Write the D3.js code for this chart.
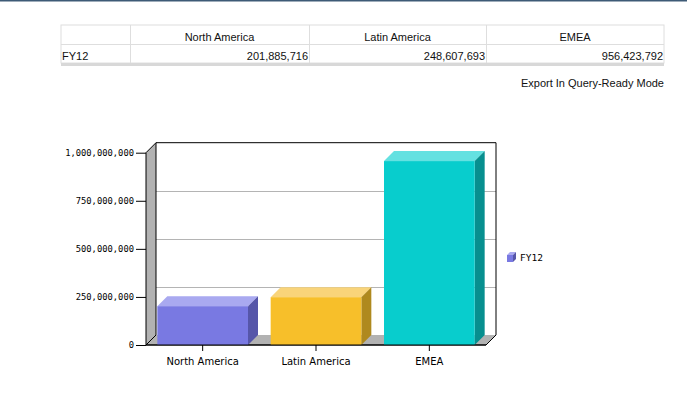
<!DOCTYPE html>
<html>
<head>
<meta charset="utf-8">
<script src="https://cdn.jsdelivr.net/npm/d3@7"></script>
<style>
  body { margin: 0; background: #fff; }
  svg { display: block; }
</style>
</head>
<body>
<svg id="chart"></svg>
<script>
// data
const regions = ["North America", "Latin America", "EMEA"]
const fy12 = [201885716, 248607693, 956423792]
const yTicks = [0, 250000000, 500000000, 750000000, 1000000000]
const seriesName = "FY12"

const width = 687
const height = 397
const depth = 10

const faceColors = {
    "North America": { front: "#7979e2", top: "#a9a9f0", side: "#5656a9" },
    "Latin America": { front: "#f7bf2a", top: "#f9d47a", side: "#af891e" },
    "EMEA": { front: "#08cdcd", top: "#64e1e1", side: "#078f8f" }
}

const svg = d3.select("#chart").attr("width", width).attr("height", height)

// top rule
svg.append("rect").attr("x", 0).attr("y", 0).attr("width", width).attr("height", 1.5).attr("fill", "#3e5a76")

// ---- table ----
const tableFont = "'Liberation Sans', Arial, sans-serif"
const colEdges = [61, 130, 309, 486, 664]
const rowTop = 25, rowMid = 44, rowBot = 63
const table = svg.append("g").attr("font-family", tableFont).attr("font-size", 11).attr("fill", "#111")

table.append("rect").attr("x", colEdges[0]).attr("y", rowTop)
    .attr("width", colEdges[4] - colEdges[0]).attr("height", rowBot - rowTop)
    .attr("fill", "none").attr("stroke", "#dedede")
table.append("line").attr("x1", colEdges[0]).attr("x2", colEdges[4])
    .attr("y1", rowMid + 0.5).attr("y2", rowMid + 0.5).attr("stroke", "#dedede")
table.selectAll("line.col").data(colEdges.slice(1, 4)).join("line")
    .attr("class", "col")
    .attr("x1", d => d + 0.5).attr("x2", d => d + 0.5)
    .attr("y1", rowTop).attr("y2", rowBot).attr("stroke", "#dedede")
table.append("rect").attr("x", colEdges[0]).attr("y", rowBot)
    .attr("width", colEdges[4] - colEdges[0]).attr("height", 3).attr("fill", "#d8d8d8")

table.selectAll("text.head").data(regions).join("text")
    .attr("class", "head")
    .attr("x", (d, i) => (colEdges[i + 1] + colEdges[i + 2]) / 2)
    .attr("y", 41)
    .attr("text-anchor", "middle")
    .text(d => d)
table.append("text").attr("x", 62).attr("y", 60).text(seriesName)
table.selectAll("text.val").data(fy12).join("text")
    .attr("class", "val")
    .attr("x", (d, i) => colEdges[i + 2] - 1)
    .attr("y", 60)
    .attr("text-anchor", "end")
    .text(d => d3.format(",")(d))

svg.append("text")
    .attr("x", 664).attr("y", 87)
    .attr("text-anchor", "end")
    .attr("font-family", tableFont).attr("font-size", 11).attr("fill", "#111")
    .text("Export In Query-Ready Mode")

// ---- 3d bar chart ----
const x = d3.scaleBand().domain(regions).range([146, 486]).paddingInner(0.2).paddingOuter(0.1)
const y = d3.scaleLinear().domain([0, 1000000000]).range([345, 152.7])
const y0 = y(0)

const chart = svg.append("g")

// back wall
chart.append("rect")
    .attr("x", x.range()[0] + depth).attr("y", y(1000000000) - depth)
    .attr("width", x.range()[1] - x.range()[0]).attr("height", y0 - y(1000000000))
    .attr("fill", "#fff")

// grid on back wall
chart.selectAll("line.grid").data(yTicks.slice(1, 4)).join("line")
    .attr("class", "grid")
    .attr("x1", x.range()[0] + depth).attr("x2", x.range()[1] + depth)
    .attr("y1", d => Math.round(y(d) - depth) + 0.5).attr("y2", d => Math.round(y(d) - depth) + 0.5)
    .attr("stroke", "#b4b4b4")

// floor
const xl = x.range()[0], xr = x.range()[1], yTop = y(1000000000)
chart.append("path")
    .attr("d", `M${xl},${y0}L${xl + depth},${y0 - depth}L${xr + depth},${y0 - depth}L${xr},${y0}Z`)
    .attr("fill", "#b2b2b2")
// left wall
chart.append("path")
    .attr("d", `M${xl},${y0}L${xl},${yTop}L${xl + depth},${yTop - depth}L${xl + depth},${y0 - depth}Z`)
    .attr("fill", "#b2b2b2").attr("stroke", "#000")

// frame lines
chart.append("path")
    .attr("d", `M${xl + depth},${yTop - depth}L${xr + depth},${yTop - depth}L${xr + depth},${y0 - depth}L${xr},${y0}L${xl},${y0}`)
    .attr("fill", "none").attr("stroke", "#000")

// bars
const bars = chart.selectAll("g.bar").data(regions.map((r, i) => ({ region: r, value: fy12[i] }))).join("g")
    .attr("class", "bar")

bars.append("path")
    .attr("d", d => {
        const x0 = x(d.region), x1 = x0 + x.bandwidth(), yt = y(d.value)
        return `M${x0},${yt}L${x0 + depth},${yt - depth}L${x1 + depth},${yt - depth}L${x1},${yt}Z`
    })
    .attr("fill", d => faceColors[d.region].top)
bars.append("path")
    .attr("d", d => {
        const x1 = x(d.region) + x.bandwidth(), yt = y(d.value)
        return `M${x1},${yt}L${x1 + depth},${yt - depth}L${x1 + depth},${y0 - depth}L${x1},${y0}Z`
    })
    .attr("fill", d => faceColors[d.region].side)
bars.append("rect")
    .attr("x", d => x(d.region))
    .attr("y", d => y(d.value))
    .attr("width", x.bandwidth())
    .attr("height", d => y0 - y(d.value))
    .attr("fill", d => faceColors[d.region].front)

// redraw bottom axis line over bars
chart.append("line").attr("x1", xl).attr("x2", xr).attr("y1", y0).attr("y2", y0).attr("stroke", "#000")

// y axis
const yAxis = svg.append("g")
    .attr("transform", `translate(${xl},0)`)
    .call(d3.axisLeft(y).tickValues(yTicks).tickFormat(d3.format(",")).tickSize(10).tickPadding(2))
yAxis.select(".domain").remove()
yAxis.selectAll("text")
    .attr("font-family", "'DejaVu Sans Mono', monospace")
    .attr("font-size", 8.8)
    .attr("fill", "#000")

// x axis
const xAxis = svg.append("g")
    .attr("transform", `translate(0,${y0})`)
    .call(d3.axisBottom(x).tickSize(6).tickPadding(7))
xAxis.select(".domain").remove()
xAxis.selectAll("text")
    .attr("font-family", "'DejaVu Sans', sans-serif")
    .attr("font-size", 10)
    .attr("fill", "#000")

// legend
const legend = svg.append("g").attr("transform", "translate(507,255)")
legend.append("path").attr("d", "M0,0L3,-3L9,-3L6,0Z").attr("fill", faceColors["North America"].top)
legend.append("path").attr("d", "M6,0L9,-3L9,4L6,7Z").attr("fill", faceColors["North America"].side)
legend.append("rect").attr("x", 0).attr("y", 0).attr("width", 6).attr("height", 7).attr("fill", faceColors["North America"].front)
legend.append("text")
    .attr("x", 13).attr("y", 5.5)
    .attr("font-family", "'DejaVu Sans Mono', monospace")
    .attr("font-size", 9.5)
    .attr("fill", "#000")
    .text(seriesName)
</script>
</body>
</html>
